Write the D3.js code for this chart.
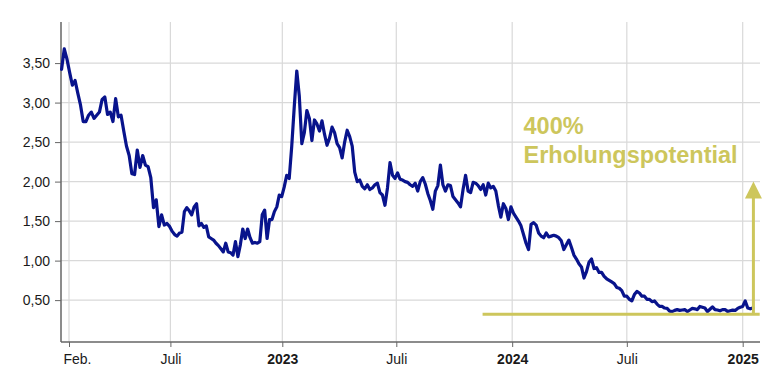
<!DOCTYPE html>
<html>
<head>
<meta charset="utf-8">
<script src="https://cdn.jsdelivr.net/npm/d3@7"></script>
<style>
  body { margin: 0; background: #fff; }
  svg { display: block; font-family: "Liberation Sans", Arial, Helvetica, sans-serif; }
</style>
</head>
<body>
<svg id="chart" width="772" height="380"></svg>
<script>
// price series, one value every 4 days starting 21 Jan 2022
const startDate = new Date(2022, 0, 21);
const stepDays = 4;
const prices = [
  3.42, 3.68, 3.55, 3.38, 3.22, 3.28, 3.12, 2.97, 2.76, 2.76,
  2.84, 2.88, 2.80, 2.84, 2.88, 3.04, 3.07, 2.85, 2.88, 2.76,
  3.05, 2.82, 2.84, 2.64, 2.45, 2.33, 2.10, 2.09, 2.40, 2.18,
  2.33, 2.21, 2.19, 2.05, 1.67, 1.77, 1.43, 1.58, 1.45, 1.47,
  1.43, 1.37, 1.33, 1.31, 1.35, 1.36, 1.62, 1.67, 1.63, 1.58,
  1.68, 1.72, 1.44, 1.47, 1.42, 1.44, 1.30, 1.28, 1.26, 1.22,
  1.19, 1.15, 1.11, 1.22, 1.11, 1.10, 1.07, 1.24, 1.05, 1.20,
  1.40, 1.28, 1.40, 1.29, 1.22, 1.23, 1.22, 1.24, 1.58, 1.64,
  1.28, 1.52, 1.52, 1.62, 1.68, 1.83, 1.81, 1.93, 2.08, 2.04,
  2.45, 2.95, 3.40, 3.08, 2.48, 2.62, 2.90, 2.80, 2.52, 2.78,
  2.73, 2.64, 2.77, 2.60, 2.46, 2.55, 2.69, 2.62, 2.48, 2.43,
  2.30, 2.50, 2.65, 2.57, 2.45, 2.12, 2.00, 2.02, 1.94, 1.91,
  1.96, 1.90, 1.92, 1.96, 1.98, 1.86, 1.83, 1.70, 1.92, 2.24,
  2.08, 2.04, 2.11, 2.03, 2.02, 2.00, 1.99, 1.96, 1.94, 1.98,
  1.88, 2.00, 2.05, 1.97, 1.85, 1.76, 1.65, 1.88, 1.95, 2.21,
  1.96, 1.88, 1.96, 1.95, 1.81, 1.77, 1.73, 1.68, 1.90, 2.08,
  1.88, 1.86, 1.99, 1.98, 1.95, 1.90, 1.96, 1.83, 1.98, 1.92,
  1.94, 1.88, 1.70, 1.55, 1.72, 1.66, 1.52, 1.68, 1.60, 1.55,
  1.50, 1.44, 1.33, 1.22, 1.14, 1.46, 1.48, 1.45, 1.35, 1.31,
  1.29, 1.35, 1.30, 1.31, 1.32, 1.31, 1.29, 1.25, 1.14, 1.20,
  1.26, 1.17, 1.07, 1.02, 0.96, 0.92, 0.78, 0.86, 0.98, 1.02,
  0.90, 0.91, 0.85, 0.85, 0.80, 0.77, 0.75, 0.73, 0.71, 0.66,
  0.65, 0.62, 0.55, 0.55, 0.51, 0.49, 0.57, 0.61, 0.59, 0.55,
  0.55, 0.51, 0.51, 0.48, 0.49, 0.45, 0.42, 0.42, 0.40, 0.395,
  0.36, 0.355, 0.37, 0.38, 0.37, 0.375, 0.38, 0.355, 0.375, 0.395,
  0.39, 0.38, 0.42, 0.41, 0.40, 0.355, 0.385, 0.415, 0.38, 0.375,
  0.365, 0.38, 0.38, 0.355, 0.365, 0.373, 0.37, 0.395, 0.41, 0.42,
  0.49, 0.40, 0.39, 0.40
];

const yTicks = [0.5, 1, 1.5, 2, 2.5, 3, 3.5];
const xTickDates = [
  new Date(2022, 1, 1), new Date(2022, 6, 1), new Date(2023, 0, 1),
  new Date(2023, 6, 1), new Date(2024, 0, 1), new Date(2024, 6, 1),
  new Date(2025, 0, 1)
];
const xTickLabels = ["Feb.", "Juli", "2023", "Juli", "2024", "Juli", "2025"];

// annotation
const floorLevel = 0.32;
const targetLevel = 2.0;
const floorFrom = new Date(2023, 10, 15);
const floorTo = new Date(2025, 0, 28);
const arrowDate = new Date(2025, 0, 18);
const noteDate = new Date(2024, 0, 19);
const noteLines = ["400%", "Erholungspotential"];
const noteLevels = [2.60, 2.24];

const width = 772, height = 380;
const margin = { top: 22, right: 12, bottom: 38, left: 61 };
const lineColor = "#08138c";
const noteColor = "#cdc65c";

const data = prices.map((v, i) => ({
  date: d3.timeDay.offset(startDate, i * stepDays),
  value: v
}));

const svg = d3.select("#chart");

const x = d3.scaleTime()
  .domain([xTickDates[0], xTickDates[1], xTickDates[2], xTickDates[6]])
  .range([69, 170.4, 282.3, 742.7]);

const y = d3.scaleLinear()
  .domain([-0.03, 4.02])
  .range([height - margin.bottom, margin.top]);

const de = d3.formatLocale({ decimal: ",", thousands: ".", grouping: [3], currency: ["", " €"] });
const fmt = de.format(".2f");

// gridlines
svg.append("g")
  .selectAll("line")
  .data(yTicks)
  .join("line")
    .attr("x1", margin.left)
    .attr("x2", width - margin.right)
    .attr("y1", d => y(d))
    .attr("y2", d => y(d))
    .attr("stroke", "#d9d9d9")
    .attr("stroke-width", 1.2);

svg.append("g")
  .selectAll("line")
  .data(xTickDates)
  .join("line")
    .attr("x1", d => x(d))
    .attr("x2", d => x(d))
    .attr("y1", margin.top)
    .attr("y2", height - margin.bottom)
    .attr("stroke", "#d9d9d9")
    .attr("stroke-width", 1.2);

// axes
const yAxis = svg.append("g")
  .attr("transform", `translate(${margin.left},0)`)
  .call(d3.axisLeft(y).tickValues(yTicks).tickSize(6).tickPadding(5).tickFormat(fmt))
  .call(g => g.select(".domain").remove());

const xAxis = svg.append("g")
  .attr("transform", `translate(0,${height - margin.bottom})`)
  .call(d3.axisBottom(x).tickValues(xTickDates).tickSize(5).tickPadding(7)
    .tickFormat((d, i) => xTickLabels[i]))
  .call(g => g.select(".domain").remove());

[xAxis, yAxis].forEach(g => {
  g.selectAll(".tick line").attr("stroke", "#666");
  g.selectAll(".tick text")
    .attr("fill", "#1a1a1a")
    .style("font-size", "14px")
    .style("font-family", "'Liberation Sans', Arial, sans-serif");
});

xAxis.selectAll(".tick text")
  .style("font-weight", (d, i) => /^\d{4}$/.test(xTickLabels[i]) ? "bold" : "normal");
xAxis.selectAll(".tick text")
  .filter((d, i) => i === 0)
  .attr("text-anchor", "start")
  .attr("dx", -6);

svg.append("line")
  .attr("x1", margin.left).attr("x2", margin.left)
  .attr("y1", margin.top).attr("y2", height - margin.bottom)
  .attr("stroke", "#666").attr("stroke-width", 1.5);

svg.append("line")
  .attr("x1", margin.left).attr("x2", width - margin.right)
  .attr("y1", height - margin.bottom).attr("y2", height - margin.bottom)
  .attr("stroke", "#666").attr("stroke-width", 1.5);

// price line
const line = d3.line()
  .x(d => x(d.date))
  .y(d => y(d.value));

svg.append("path")
  .datum(data)
  .attr("fill", "none")
  .attr("stroke", lineColor)
  .attr("stroke-width", 3.2)
  .attr("stroke-linejoin", "round")
  .attr("stroke-linecap", "round")
  .attr("d", line);

// annotation: floor line + arrow + text
svg.append("line")
  .attr("x1", x(floorFrom)).attr("x2", x(floorTo))
  .attr("y1", y(floorLevel)).attr("y2", y(floorLevel))
  .attr("stroke", noteColor).attr("stroke-width", 3);

const ax = x(arrowDate);
const headLen = 17, headHalf = 8.5;
svg.append("line")
  .attr("x1", ax).attr("x2", ax)
  .attr("y1", y(floorLevel))
  .attr("y2", y(targetLevel) + headLen - 1)
  .attr("stroke", noteColor).attr("stroke-width", 3);

svg.append("path")
  .attr("fill", noteColor)
  .attr("d", d3.line()([
    [ax, y(targetLevel)],
    [ax + headHalf, y(targetLevel) + headLen],
    [ax - headHalf, y(targetLevel) + headLen]
  ]) + "Z");

svg.append("g")
  .selectAll("text")
  .data(noteLines)
  .join("text")
    .attr("x", x(noteDate))
    .attr("y", (d, i) => y(noteLevels[i]))
    .attr("fill", noteColor)
    .style("font-size", "23.5px")
    .style("font-weight", "bold")
    .text(d => d);
</script>
</body>
</html>
